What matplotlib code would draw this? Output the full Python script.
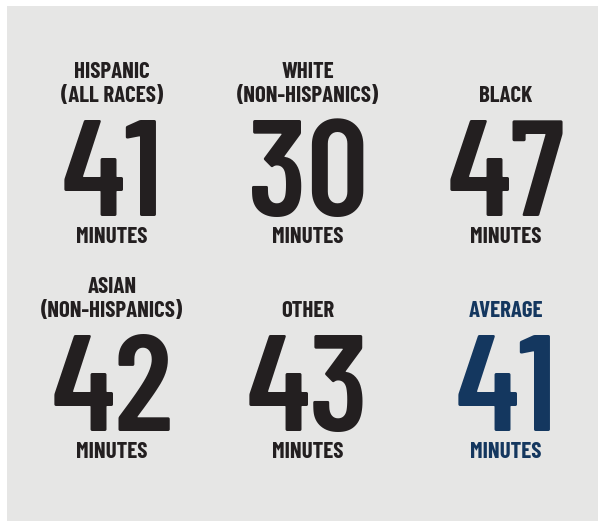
import matplotlib
matplotlib.use("Agg")
import matplotlib.pyplot as plt
from matplotlib.patches import Rectangle

# Data
labels = [["HISPANIC", "(ALL RACES)"], ["WHITE", "(NON-HISPANICS)"], ["BLACK"],
          ["ASIAN", "(NON-HISPANICS)"], ["OTHER"], ["AVERAGE"]]
minutes = [41, 30, 47, 42, 43, 41]
unit = "MINUTES"

W, H = 598, 521
BG = "#e6e6e5"
DARK = "#231f20"
BLUE = "#14375f"
FONT = ["Barlow Condensed", "Fira Sans Extra Condensed", "DejaVu Sans"]

fig = plt.figure(figsize=(W / 100, H / 100), dpi=100)
fig.patch.set_facecolor("white")
fig.patches.append(Rectangle((7 / W, 0), 1 - 7 / W, 1 - 6 / H,
                             transform=fig.transFigure, facecolor=BG,
                             edgecolor="none", zorder=0))


def put(x, y, s, size, color, weight=600):
    fig.text(x / W, 1 - y / H, s, ha="center", va="baseline",
             fontsize=size, fontweight=weight, family=FONT, color=color)


col_x = [112, 308, 506]
row_y = [0, 215]
for i, (lab, val) in enumerate(zip(labels, minutes)):
    cx = col_x[i % 3]
    dy = row_y[i // 3]
    color = BLUE if i == len(minutes) - 1 else DARK
    # label lines, last line sits on the lower baseline
    for j, line in enumerate(reversed(lab)):
        put(cx, 102 + dy - 24 * j, line, 16.5, color, 700)
    put(cx, 216 + dy, str(val), 99, color, 600)
    put(cx, 243 + dy, unit, 16.5, color, 700)

fig.savefig("out.png", dpi=100, facecolor=fig.get_facecolor())
